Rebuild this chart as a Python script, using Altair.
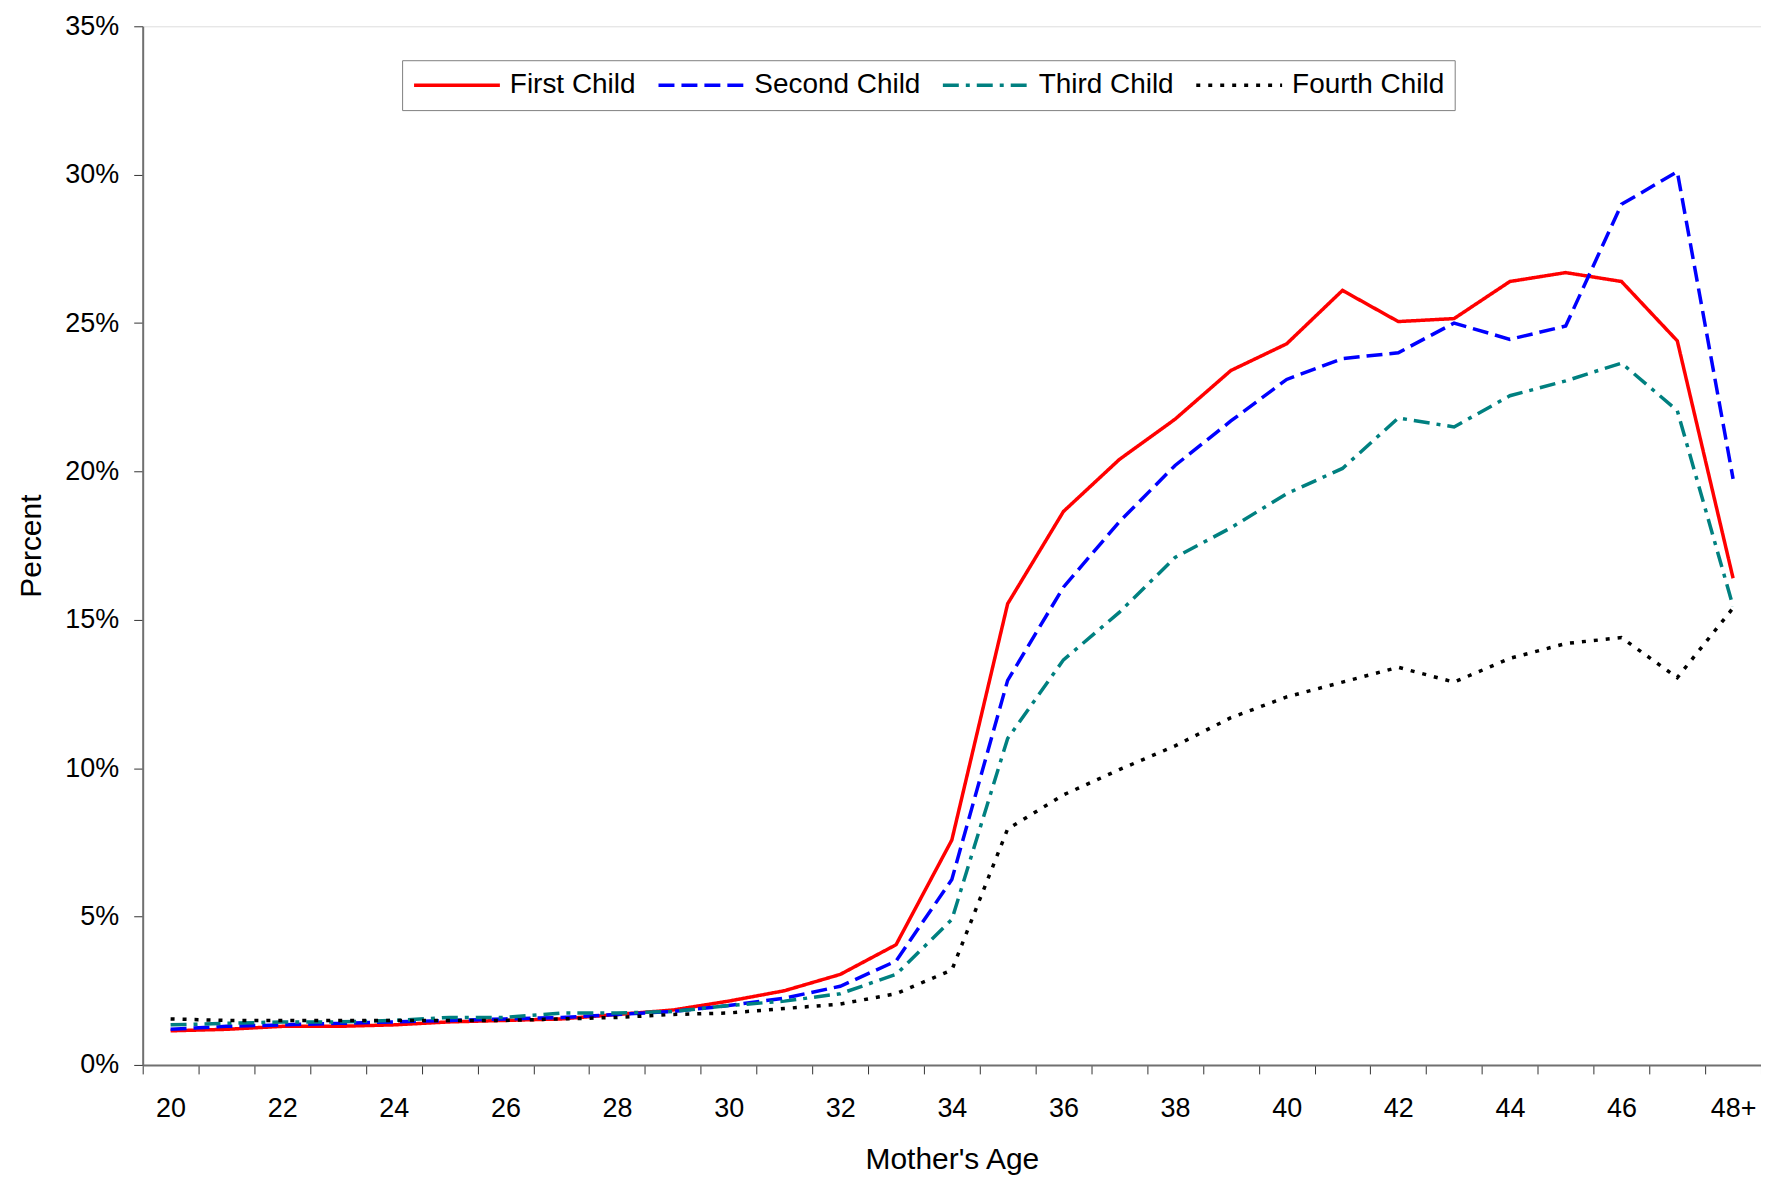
import altair as alt
import pandas as pd

ages = [str(a) for a in range(20, 48)] + ["48+"]
series_names = ["First Child", "Second Child", "Third Child", "Fourth Child"]

first_child = [1.15, 1.2, 1.3, 1.3, 1.35, 1.45, 1.5, 1.55, 1.7, 1.85, 2.15, 2.5, 3.05, 4.05,
               7.58, 15.54, 18.65, 20.4, 21.76, 23.4, 24.3, 26.1, 25.05, 25.15, 26.4, 26.7,
               26.4, 24.4, 16.4]
second_child = [1.2, 1.3, 1.35, 1.4, 1.45, 1.5, 1.55, 1.6, 1.7, 1.8, 2.0, 2.25, 2.65, 3.5,
                6.25, 12.96, 16.1, 18.3, 20.2, 21.7, 23.1, 23.8, 24.0, 25.0, 24.45, 24.9,
                29.0, 30.1, 19.75]
third_child = [1.35, 1.4, 1.45, 1.45, 1.5, 1.6, 1.6, 1.75, 1.75, 1.8, 2.0, 2.15, 2.4, 3.05,
               4.9, 11.0, 13.65, 15.25, 17.1, 18.1, 19.25, 20.1, 21.8, 21.5, 22.55, 23.05,
               23.65, 22.05, 15.45]
fourth_child = [1.55, 1.5, 1.5, 1.5, 1.5, 1.5, 1.5, 1.55, 1.6, 1.7, 1.75, 1.9, 2.05, 2.4,
                3.2, 7.95, 9.1, 9.95, 10.75, 11.7, 12.4, 12.9, 13.4, 12.9, 13.7, 14.2,
                14.4, 13.05, 15.4]

y_ticks = [0, 5, 10, 15, 20, 25, 30, 35]

rows = []
for name, vals in zip(series_names, [first_child, second_child, third_child, fourth_child]):
    for a, v in zip(ages, vals):
        rows.append({"age": a, "pct": v, "series": name})
df = pd.DataFrame(rows)

FONT = "Liberation Sans"

legend = alt.Legend(
    title=None,
    orient="none",
    legendX=260,
    legendY=34,
    direction="horizontal",
    strokeColor="#808080",
    fillColor="white",
    padding=10,
    symbolType="M-1,0H1",
    symbolSize=7400,
    symbolStrokeWidth=3.5,
    clipHeight=30,
    labelFont=FONT,
    labelFontSize=28,
    labelColor="black",
    labelOffset=8,
    columnPadding=20,
    labelLimit=400,
)

chart = alt.Chart(df).mark_line(strokeWidth=3.5, strokeCap="butt").encode(
    x=alt.X(
        "age:O",
        sort=ages,
        bandPosition=0.5,
        scale=alt.Scale(type="band", paddingInner=0, paddingOuter=0),
        axis=alt.Axis(
            title="Mother's Age",
            tickBand="extent",
            labelExpr="(datum.value == '48+' || toNumber(datum.value) % 2 == 0) ? datum.label : ''",
            labelAngle=0,
            labelFont=FONT,
            labelFontSize=27,
            labelColor="black",
            labelPadding=22,
            tickSize=9,
            tickColor="#333333",
            domainColor="#707070",
            domainWidth=2,
            titleFont=FONT,
            titleFontSize=30,
            titleFontWeight="normal",
            titleColor="black",
            titleBaseline="alphabetic",
            titleY=104,
            grid=False,
        ),
    ),
    y=alt.Y(
        "pct:Q",
        scale=alt.Scale(domain=[0, 35], nice=False),
        axis=alt.Axis(
            title="Percent",
            values=y_ticks,
            labelExpr="datum.value + '%'",
            labelFont=FONT,
            labelFontSize=27,
            labelColor="black",
            labelPadding=15,
            tickSize=9,
            tickColor="#333333",
            domainColor="#707070",
            domainWidth=2,
            titleFont=FONT,
            titleFontSize=30,
            titleFontWeight="normal",
            titleColor="black",
            titleBaseline="alphabetic",
            titleX=-102,
            grid=False,
        ),
    ),
    color=alt.Color(
        "series:N",
        sort=series_names,
        scale=alt.Scale(domain=series_names, range=["#ff0000", "#0000ff", "#008080", "#000000"]),
        legend=legend,
    ),
    strokeDash=alt.StrokeDash(
        "series:N",
        sort=series_names,
        scale=alt.Scale(domain=series_names, range=[[1, 0], [16, 7], [16, 7, 4, 7], [4, 8]]),
        legend=legend,
    ),
).properties(
    width=1622,
    height=1041,
    autosize=alt.AutoSizeParams(type="none"),
    padding={"left": 135, "top": 17, "right": 0, "bottom": 112},
).configure_view(stroke=None).configure(background="white")

chart.save("out.html", embed_options={"renderer": "svg", "actions": False})
